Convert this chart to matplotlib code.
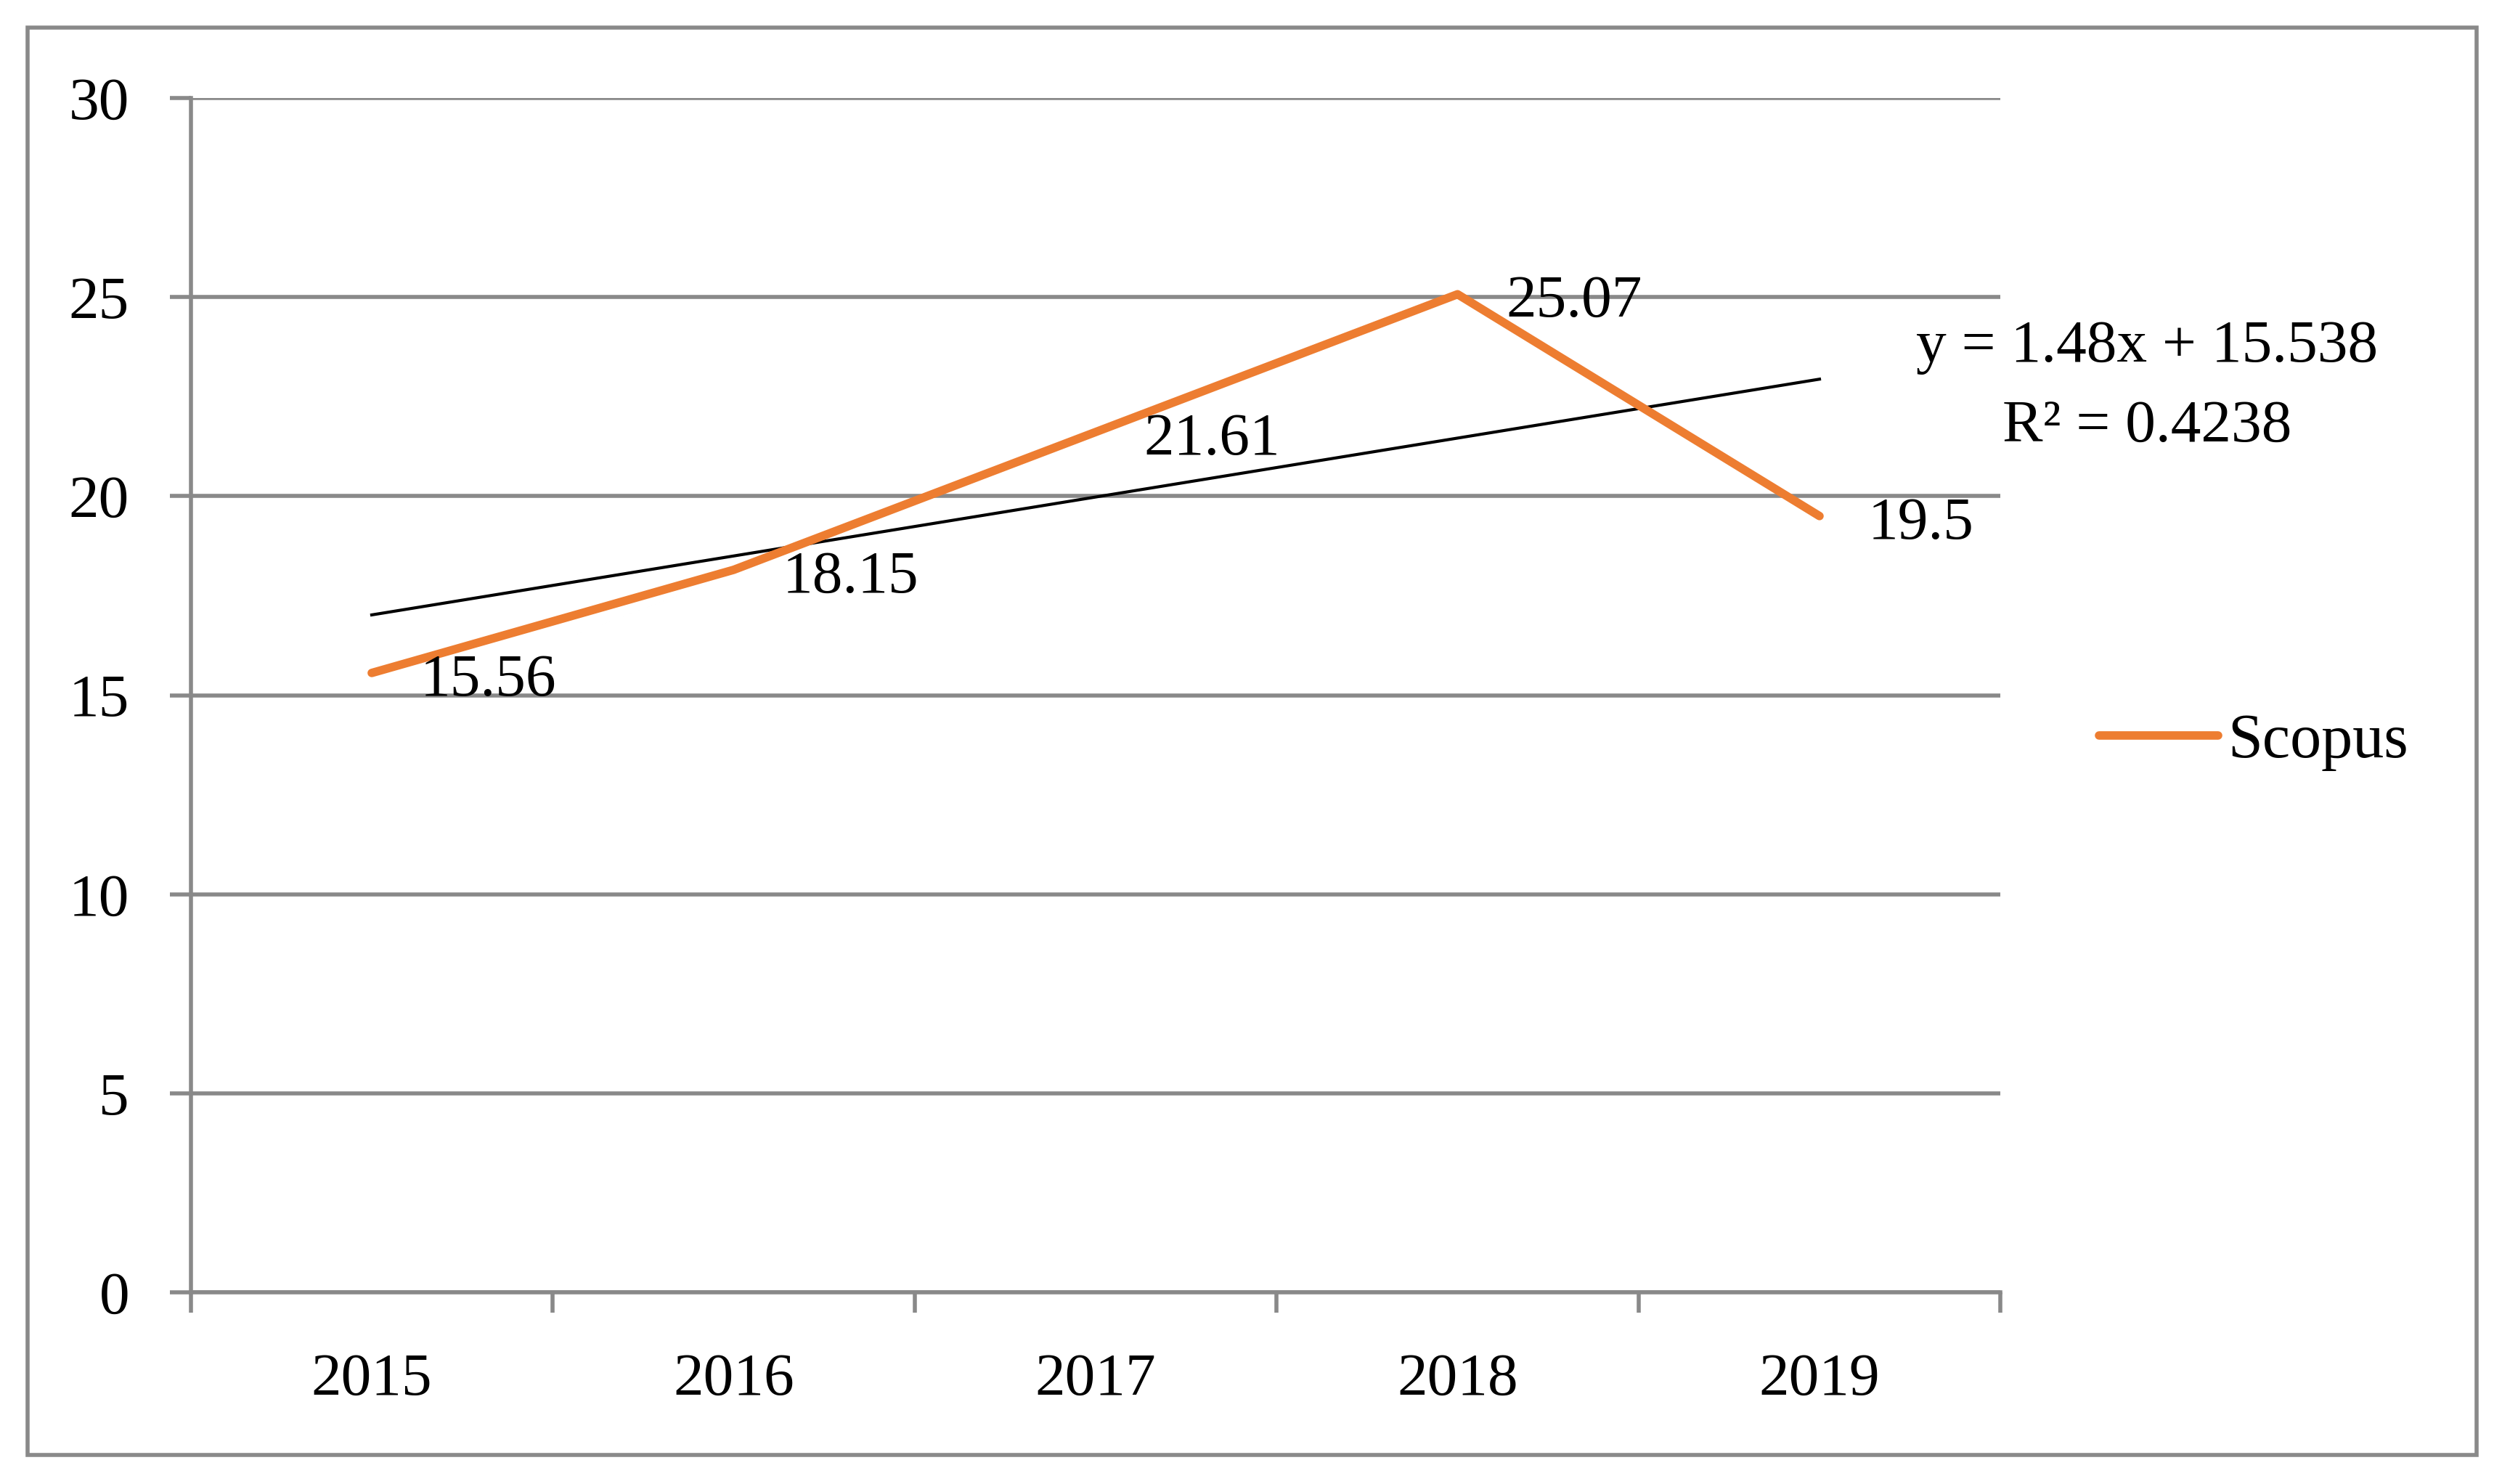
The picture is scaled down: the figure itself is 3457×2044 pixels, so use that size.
import matplotlib
matplotlib.use('Agg')
import matplotlib.pyplot as plt
from matplotlib.patches import Rectangle
import numpy as np

# data
years = ['2015', '2016', '2017', '2018', '2019']
scopus = [15.56, 18.15, 21.61, 25.07, 19.5]

plt.rcParams['font.family'] = ['Liberation Serif', 'DejaVu Serif']

orange = '#ED7D31'
gray = '#898989'

fig = plt.figure(figsize=(17.285, 10.22), dpi=200)
ax = fig.add_axes([0.0760, 0.129, 0.721, 0.805])

x = np.arange(1, len(years) + 1)
ax.plot(x, scopus, color=orange, lw=4.2, solid_capstyle='round', zorder=3, label='Scopus')

# linear trend line
slope, intercept = np.polyfit(x, scopus, 1)
trend = slope * x + intercept
ax.plot(x, trend, color='black', lw=1.5, zorder=2)
r2 = 1 - np.sum((np.array(scopus) - trend) ** 2) / np.sum((np.array(scopus) - np.mean(scopus)) ** 2)

# data labels
for xi, v in zip(x, scopus):
    ax.annotate(f'{v:g}', (xi, v), xytext=(24, -4), textcoords='offset points',
                ha='left', va='center', fontsize=30, zorder=4)

ax.set_xlim(0.5, 5.5)
ax.set_ylim(0, 30)
ax.set_yticks(range(0, 31, 5))
ax.yaxis.grid(True, color=gray, lw=2.0)
ax.set_axisbelow(True)

ax.set_xticks(x)
ax.set_xticklabels(years)
ax.set_xticks(np.arange(0.5, 6, 1), minor=True)
ax.tick_params(axis='x', which='major', length=0, pad=30, labelsize=30)
ax.tick_params(axis='x', which='minor', length=10, width=2.0, color=gray)
ax.tick_params(axis='y', length=10.5, width=2.0, color=gray, pad=20, labelsize=30)

for s in ['top', 'right']:
    ax.spines[s].set_visible(False)
ax.spines['left'].set_color(gray)
ax.spines['left'].set_linewidth(2.0)
ax.spines['bottom'].set_color(gray)
ax.spines['bottom'].set_linewidth(2.0)

# trend equation
fig.text(0.8555, 0.766, f'y = {slope:.2f}x + {intercept:.3f}', ha='center', va='center', fontsize=30)
fig.text(0.8555, 0.712, f'R² = {r2:.4f}', ha='center', va='center', fontsize=30)

# legend
fig.legend(handles=ax.get_lines()[:1], loc='center left', bbox_to_anchor=(0.814, 0.5),
           frameon=False, fontsize=31, handlelength=1.9, handletextpad=0.15)

# outer border
fig.patches.append(Rectangle((0.011, 0.0196), 0.9757, 0.962, transform=fig.transFigure,
                             fill=False, edgecolor=gray, lw=2.0))

fig.savefig('out.png', dpi=200)
